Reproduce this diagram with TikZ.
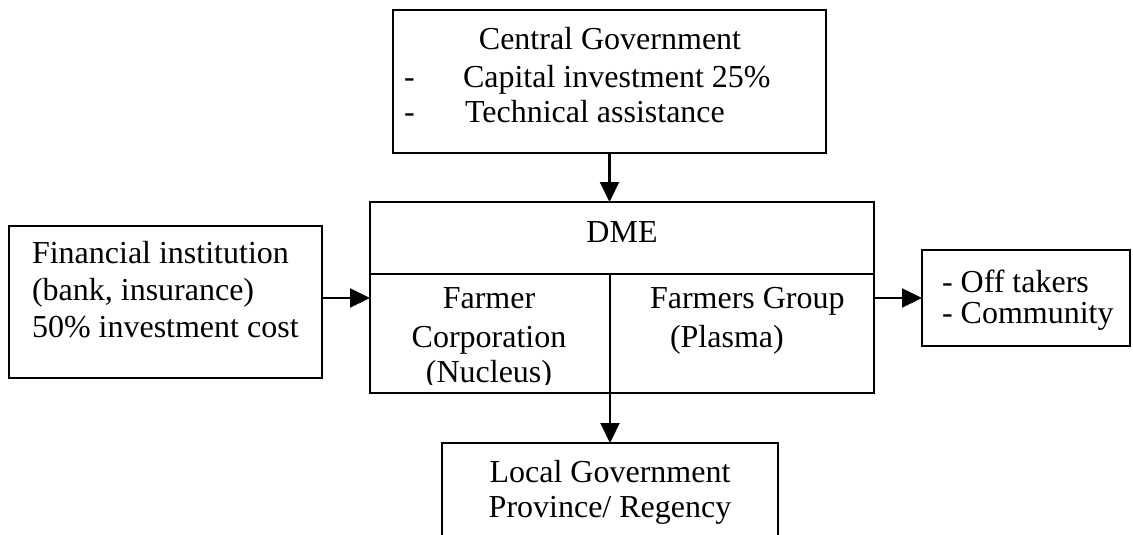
\documentclass[tikz,border=0pt]{standalone}
\usepackage{fontspec}
\setmainfont{Liberation Serif}
\usetikzlibrary{arrows.meta}
\begin{document}
\begin{tikzpicture}[x=1pt,y=-1pt,
  box/.style={draw, line width=2.2pt, rectangle, inner sep=0pt, outer sep=0pt, anchor=north west},
  txt/.style={inner sep=0pt, outer sep=0pt, font=\fontsize{32}{36}\selectfont},
  conn/.style={line width=2.2pt, -{Triangle[length=20pt,width=19pt]}}]
\clip (0,0) rectangle (1133,535);
% boxes
\node[box, minimum width=433pt, minimum height=143pt] (cg) at (393,10) {};
\node[box, minimum width=504pt, minimum height=191pt] (dme) at (370,202) {};
\node[box, minimum width=313pt, minimum height=152pt] (fi) at (9,226) {};
\node[box, minimum width=208pt, minimum height=96pt] (off) at (922,250) {};
\node[box, minimum width=336pt, minimum height=110pt] (lg) at (442,443) {};
% DME dividers
\coordinate (mid) at (610,274);
\draw[line width=2.2pt] (dme.west |- mid) -- (dme.east |- mid);
\draw[line width=2.2pt] (mid) -- (mid |- dme.south);
% central government text
\node[txt, anchor=base] (cg1) at (610,50) {Central Government};
\node[txt, anchor=base west] (cgd1) at (404,88) {-};
\node[txt, anchor=base west] (cg2) at (463,88) {Capital investment 25\%};
\node[txt, anchor=base west] (cgd2) at (404,122) {-};
\node[txt, anchor=base west] (cg3) at (465,122) {Technical assistance};
% DME text
\node[txt, anchor=base] (dmet) at (622,242) {DME};
\node[txt, anchor=base] (fc1) at (489,308) {Farmer};
\node[txt, anchor=base] (fc2) at (489,347) {Corporation};
\begin{scope}
\clip (372,276) rectangle (608,384);
\node[txt, anchor=base] (fc3) at (489,382) {(Nucleus)};
\end{scope}
\node[txt, anchor=base west] (fg1) at (650,308) {Farmers Group};
\node[txt, anchor=base west] (fg2) at (670,347) {(Plasma)};
% financial institution
\node[txt, anchor=base west] (fi1) at (32,263) {Financial institution};
\node[txt, anchor=base west] (fi2) at (32,300) {(bank, insurance)};
\node[txt, anchor=base west] (fi3) at (32,337) {50\% investment cost};
% off takers
\node[txt, anchor=base west] (of1) at (942,292) {- Off takers};
\node[txt, anchor=base west] (of2) at (942,323) {- Community};
% local government
\node[txt, anchor=base] (lg1) at (610,482) {Local Government};
\node[txt, anchor=base] (lg2) at (610,517) {Province/ Regency};
% connectors
\draw[conn] (cg.south) -- (cg.south |- dme.north);
\draw[conn] ([yshift=4pt]fi.east) -- ([yshift=4pt]fi.east -| dme.west);
\draw[conn] (off.west -| dme.east) -- (off.west);
\draw[conn] (lg.north |- dme.south) -- (lg.north);
\end{tikzpicture}
\end{document}
